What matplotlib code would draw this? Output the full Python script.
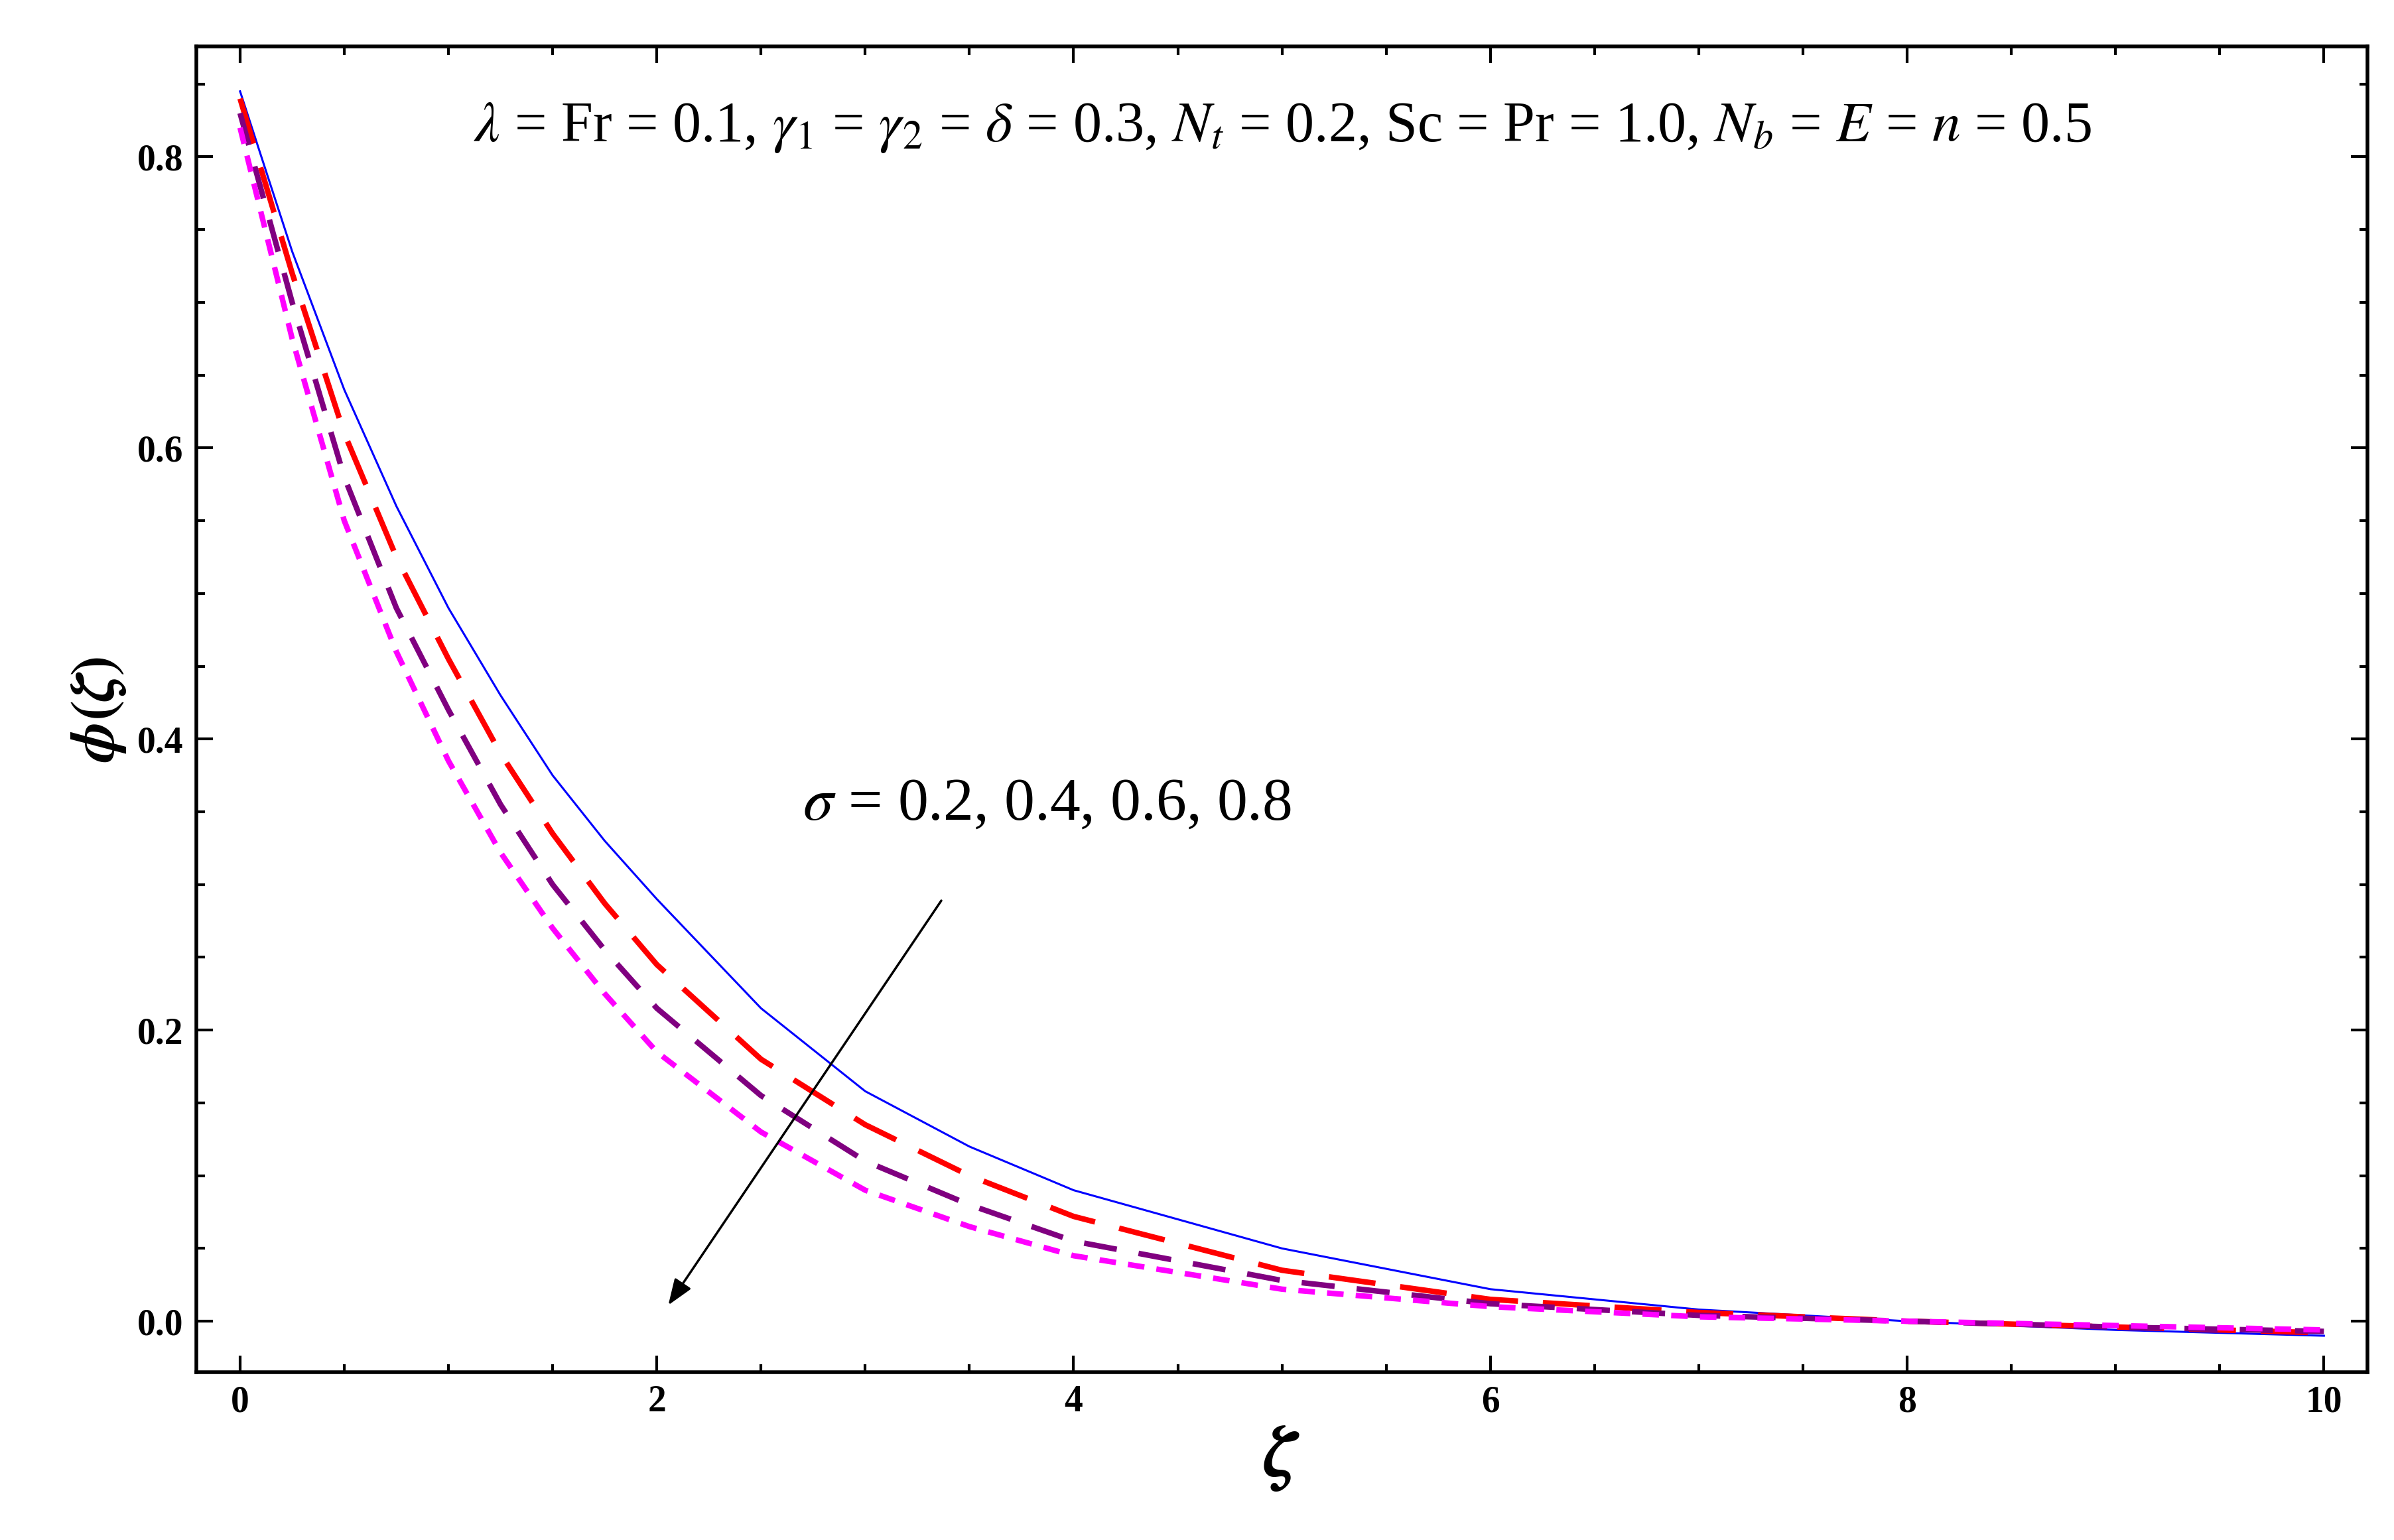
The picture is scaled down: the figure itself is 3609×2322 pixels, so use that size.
import matplotlib
matplotlib.use("Agg")
import matplotlib.pyplot as plt
from matplotlib.ticker import MultipleLocator

plt.rcParams['font.family'] = ['Liberation Serif', 'DejaVu Serif']
plt.rcParams['mathtext.fontset'] = 'stix'

zeta = [0, 0.25, 0.5, 0.75, 1, 1.25, 1.5, 1.75, 2, 2.5, 3, 3.5, 4, 5, 6, 7, 8, 9, 10]
phi_02 = [0.845, 0.735, 0.64, 0.56, 0.49, 0.43, 0.375, 0.33, 0.29, 0.215, 0.158, 0.12, 0.09, 0.05, 0.022, 0.008, 0.0, -0.006, -0.01]
phi_04 = [0.84, 0.72, 0.61, 0.525, 0.455, 0.39, 0.335, 0.287, 0.245, 0.18, 0.135, 0.10, 0.072, 0.035, 0.015, 0.006, 0.0, -0.004, -0.008]
phi_06 = [0.83, 0.70, 0.58, 0.49, 0.42, 0.355, 0.30, 0.255, 0.215, 0.155, 0.11, 0.08, 0.055, 0.028, 0.012, 0.004, 0.0, -0.004, -0.007]
phi_08 = [0.82, 0.675, 0.55, 0.46, 0.385, 0.322, 0.27, 0.225, 0.185, 0.13, 0.09, 0.065, 0.045, 0.022, 0.01, 0.003, 0.0, -0.003, -0.006]

fig = plt.figure(figsize=(36.09, 23.22), dpi=100)
ax = fig.add_axes([0.082, 0.109, 0.907, 0.861])

ax.plot(zeta, phi_02, color='blue', lw=2.2)
ax.plot(zeta, phi_04, color='red', lw=6, dashes=(8.5, 4.5))
ax.plot(zeta, phi_06, color='purple', lw=6, dashes=(6, 4))
ax.plot(zeta, phi_08, color='magenta', lw=6, dashes=(3, 2.2))

ax.set_xlim(-0.21, 10.21)
ax.set_ylim(-0.035, 0.876)
ax.xaxis.set_major_locator(MultipleLocator(2))
ax.xaxis.set_minor_locator(MultipleLocator(0.5))
ax.yaxis.set_major_locator(MultipleLocator(0.2))
ax.yaxis.set_minor_locator(MultipleLocator(0.05))
ax.tick_params(which='both', direction='in', top=True, right=True, width=3)
ax.tick_params(which='major', length=18, labelsize=40, pad=14)
ax.tick_params(which='minor', length=9)
ax.xaxis.set_major_formatter(plt.FuncFormatter(lambda v, p: f"{int(v)}"))
ax.yaxis.set_major_formatter(plt.FuncFormatter(lambda v, p: f"{v:.1f}"))
for lab in ax.get_xticklabels() + ax.get_yticklabels():
    lab.set_fontweight('bold')
for s in ax.spines.values():
    s.set_linewidth(4)

ax.set_xlabel(r'$\boldsymbol{\zeta}$', fontsize=80, labelpad=5)
ax.set_ylabel(r'$\boldsymbol{\phi(\zeta)}$', fontsize=66, labelpad=10)

ax.text(5.0, 0.82, r'$\lambda$ = Fr = 0.1, $\gamma_1$ = $\gamma_2$ = $\delta$ = 0.3, $N_t$ = 0.2, Sc = Pr = 1.0, $N_b$ = $E$ = $n$ = 0.5',
        fontsize=62, ha='center', va='center')
ax.text(2.7, 0.355, r'$\sigma$ = 0.2, 0.4, 0.6, 0.8', fontsize=66, ha='left', va='center')
ax.annotate('', xy=(2.05, 0.01), xytext=(3.37, 0.29),
            arrowprops=dict(arrowstyle='-|>,head_length=2.4,head_width=0.9', color='black', lw=2.5))

fig.savefig('out.png', dpi=100, facecolor='white')
